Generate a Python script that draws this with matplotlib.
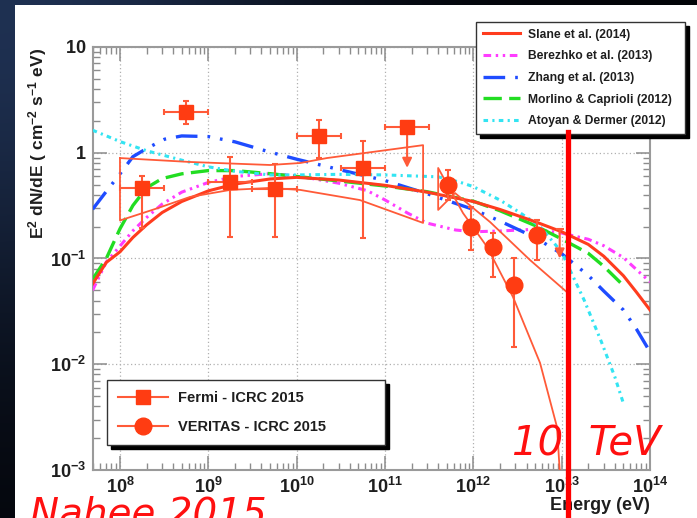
import numpy as np
import matplotlib
matplotlib.use('Agg')
import matplotlib.pyplot as plt
from matplotlib.lines import Line2D
from matplotlib.patches import Rectangle
from matplotlib.ticker import LogLocator, FuncFormatter, NullFormatter

plt.rcParams['font.family'] = ['Liberation Sans', 'DejaVu Sans']
plt.rcParams['mathtext.fontset'] = 'custom'
plt.rcParams['mathtext.rm'] = 'Liberation Sans:bold'
plt.rcParams['mathtext.bf'] = 'Liberation Sans:bold'
plt.rcParams['mathtext.it'] = 'Liberation Sans:bold'

# ---- model curves (E in eV, E^2 dN/dE) ----
slane_E = [4.9e7, 7e7, 1e8, 1.4e8, 2e8, 3e8, 5e8, 1e9, 2e9, 5e9, 1e10, 3e10, 1e11,
           3e11, 1e12, 2e12, 5e12, 1e13, 2e13, 3e13, 5e13, 7e13, 1e14]
slane_F = [0.0575, 0.0918, 0.1156, 0.158, 0.208, 0.272, 0.346, 0.436, 0.506, 0.565,
           0.585, 0.552, 0.492, 0.424, 0.346, 0.291, 0.223, 0.179, 0.136, 0.105,
           0.0687, 0.0482, 0.0326]

berezhko_E = [4.9e7, 7e7, 1e8, 1.4e8, 2e8, 3e8, 5e8, 1e9, 2e9, 5e9, 1e10, 3e10, 6.3e10,
              1e11, 1.8e11, 3e11, 6.3e11, 1e12, 2e12, 5e12, 1e13, 2e13, 3e13, 5e13, 1e14]
berezhko_F = [0.0501, 0.0927, 0.131, 0.183, 0.244, 0.327, 0.424, 0.524, 0.597, 0.634,
              0.605, 0.515, 0.438, 0.358, 0.269, 0.216, 0.186, 0.179, 0.182, 0.189,
              0.174, 0.152, 0.132, 0.102, 0.060]

zhang_E = [4.9e7, 7e7, 1e8, 1.4e8, 2e8, 3.2e8, 5e8, 1e9, 2e9, 5e9, 1e10, 3e10, 1e11,
           3e11, 1e12, 2e12, 5e12, 1e13, 2e13, 3e13, 5e13, 7e13, 1e14]
zhang_F = [0.292, 0.431, 0.631, 0.918, 1.096, 1.343, 1.442, 1.422, 1.268, 1.014, 0.869,
           0.695, 0.546, 0.410, 0.291, 0.226, 0.158, 0.111, 0.0692, 0.0492, 0.0326,
           0.0216, 0.0131]

morlino_E = [4.9e7, 7e7, 1e8, 1.4e8, 2e8, 3e8, 5e8, 1e9, 2e9, 5e9, 1e10, 3e10, 1e11,
             3e11, 1e12, 2e12, 5e12, 1e13, 2e13, 3e13, 5.2e13]
morlino_F = [0.0637, 0.100, 0.191, 0.317, 0.466, 0.570, 0.632, 0.678, 0.678, 0.634,
             0.597, 0.541, 0.485, 0.428, 0.348, 0.283, 0.205, 0.153, 0.112, 0.0843, 0.0537]

atoyan_E = [4.9e7, 7e7, 1e8, 2e8, 5e8, 1e9, 2e9, 5e9, 1e10, 3e10, 1e11, 4e11, 7e11,
            1e12, 2e12, 3.2e12, 5.6e12, 1e13, 1.26e13, 1.8e13, 2.8e13, 4e13, 5e13]
atoyan_F = [1.633, 1.445, 1.276, 1.045, 0.851, 0.736, 0.668, 0.617, 0.617, 0.625, 0.617,
            0.592, 0.528, 0.478, 0.357, 0.279, 0.204, 0.115, 0.0759, 0.0403, 0.0165,
            0.00759, 0.00427]

# ---- Fermi points ----
fermi_E = [1.78e8, 5.62e8, 1.78e9, 5.62e9, 1.78e10, 5.62e10]
fermi_Elo = [1e8, 3.16e8, 1e9, 3.16e9, 1e10, 3.16e10]
fermi_Ehi = [3.16e8, 1e9, 3.16e9, 1e10, 3.16e10, 1e11]
fermi_F = [0.465, 2.43, 0.53, 0.454, 1.44, 0.718]
fermi_Fhi = [0.60, 3.08, 0.91, 0.78, 2.04, 1.29]
fermi_Flo = [0.194, 1.87, 0.16, 0.16, 0.89, 0.156]
fermi_ul_E, fermi_ul_Elo, fermi_ul_Ehi = 1.78e11, 1e11, 3.16e11
fermi_ul_F, fermi_ul_end = 1.75, 0.72

fermi_bt_upE = [1e8, 6.2e8, 5e9, 1.1e10, 2.2e10, 8.8e10, 2.7e11]
fermi_bt_upF = [0.891, 0.818, 0.766, 0.80, 0.891, 1.04, 1.18]
fermi_bt_loE = [1e8, 2.6e8, 6.2e8, 1.76e9, 5e9, 1.1e10, 5.2e10, 2.7e11]
fermi_bt_loF = [0.229, 0.297, 0.382, 0.445, 0.465, 0.445, 0.357, 0.217]

# ---- VERITAS points ----
ver_E = [5.16e11, 9.4e11, 1.67e12, 2.89e12, 5.25e12]
ver_F = [0.495, 0.199, 0.128, 0.056, 0.167]
ver_Fhi = [0.687, 0.307, 0.174, 0.101, 0.231]
ver_Flo = [0.357, 0.12, 0.067, 0.0146, 0.097]
ver_ul_E, ver_ul_F, ver_ul_end = 9.5e12, 0.19, 0.10

ver_steepE = [4.0e11, 7.64e11, 1.43e12, 2.81e12, 5.69e12, 8.85e12, 9.66e12]
ver_steepF = [0.718, 0.269, 0.129, 0.0433, 0.0103, 0.00255, 0.000794]
ver_flatE = [4.0e11, 6.2e11, 1.55e12, 4.39e12, 1.18e13]
ver_flatF = [0.288, 0.416, 0.221, 0.0966, 0.0471]

RED = '#ff3c12'
ERR = '#ff5a38'

W, H = 697, 518
fig = plt.figure(figsize=(W / 100, H / 100), dpi=100)

# background: dark slide with white card
bg = fig.add_axes([0, 0, 1, 1])
bg.axis('off')
yy, xx = np.mgrid[0:H, 0:W]
t = np.exp(-((xx / 300.0) ** 2 + (yy / 330.0) ** 2))
navy = np.array([0.12, 0.19, 0.32])
dark = np.array([0.01, 0.015, 0.03])
img = navy[None, None, :] * t[..., None] + dark[None, None, :] * (1 - t)[..., None]
bg.imshow(img, extent=[0, 1, 0, 1], aspect='auto', origin='upper')
bg.add_patch(Rectangle((15 / W, 0), 1, 1 - 5 / H, facecolor='white', edgecolor='none'))
bg.set_xlim(0, 1)
bg.set_ylim(0, 1)

ax = fig.add_axes([93 / W, 48 / H, 557 / W, 423 / H])
ax.set_facecolor('white')
ax.set_xscale('log')
ax.set_yscale('log')
ax.set_xlim(4.95e7, 1e14)
ax.set_ylim(1e-3, 10)

l1, = ax.plot(slane_E, slane_F, color='#ff3c1e', lw=2.2, zorder=4, label='Slane et al. (2014)')
l2, = ax.plot(berezhko_E, berezhko_F, color='#ff3cff', lw=2.2, ls=(0, (2.5, 1.5, 0.8, 1.5, 0.8, 1.5)),
              zorder=3, label='Berezhko et al. (2013)')
l3, = ax.plot(zhang_E, zhang_F, color='#1f4cff', lw=2.4, ls=(0, (6.5, 3, 0.8, 3, 0.8, 3)),
              zorder=3, label='Zhang et al. (2013)')
l4, = ax.plot(morlino_E, morlino_F, color='#22dd22', lw=2.4, ls=(0, (5.5, 2.2)),
              zorder=3, label='Morlino & Caprioli (2012)')
l5, = ax.plot(atoyan_E, atoyan_F, color='#33e4f2', lw=2.2, ls=(0, (1.5, 1.4, 0.7, 1.4)),
              zorder=3, label='Atoyan & Dermer (2012)')

# Fermi butterfly
bx = fermi_bt_upE + fermi_bt_loE[::-1] + [fermi_bt_upE[0]]
by = fermi_bt_upF + fermi_bt_loF[::-1] + [fermi_bt_upF[0]]
ax.plot(bx, by, color=ERR, lw=1.3, zorder=4)

# VERITAS butterfly / fit
ax.plot(ver_flatE[::-1] + ver_steepE, ver_flatF[::-1] + ver_steepF, color=ERR, lw=1.3, zorder=4)

# Fermi points
fE = np.array(fermi_E)
fF = np.array(fermi_F)
ax.errorbar(fE, fF,
            xerr=[fE - np.array(fermi_Elo), np.array(fermi_Ehi) - fE],
            yerr=[fF - np.array(fermi_Flo), np.array(fermi_Fhi) - fF],
            fmt='s', ms=10, color=RED, ecolor=ERR, elinewidth=1.5, capsize=2.5,
            capthick=1.5, zorder=6)
ax.annotate('', xy=(fermi_ul_E, fermi_ul_end), xytext=(fermi_ul_E, fermi_ul_F),
            arrowprops=dict(arrowstyle='-|>', color=ERR, lw=1.5, mutation_scale=14,
                            shrinkA=0, shrinkB=0), zorder=5)
ax.errorbar([fermi_ul_E], [fermi_ul_F],
            xerr=[[fermi_ul_E - fermi_ul_Elo], [fermi_ul_Ehi - fermi_ul_E]],
            fmt='s', ms=10, color=RED, ecolor=ERR, elinewidth=1.5, capsize=2.5,
            capthick=1.5, zorder=6)

# VERITAS points
vE = np.array(ver_E)
vF = np.array(ver_F)
ax.errorbar(vE, vF, yerr=[vF - np.array(ver_Flo), np.array(ver_Fhi) - vF],
            fmt='o', ms=12, color=RED, ecolor=ERR, elinewidth=1.5, capsize=2.5,
            capthick=1.5, zorder=6)
ax.annotate('', xy=(ver_ul_E, ver_ul_end), xytext=(ver_ul_E, ver_ul_F),
            arrowprops=dict(arrowstyle='-|>', color=ERR, lw=1.5, mutation_scale=14,
                            shrinkA=0, shrinkB=0), zorder=5)
ax.plot([ver_ul_E], [ver_ul_F], marker='_', ms=6, mew=1.5, color=ERR, zorder=5)

# axes styling
ax.grid(True, which='major', ls=(0, (1, 2)), color='#b0b0b0', lw=0.9)
for s in ax.spines.values():
    s.set_color('#9a9a9a')
    s.set_linewidth(1.5)
ax.xaxis.set_major_locator(LogLocator(base=10, numticks=20))
ax.yaxis.set_major_locator(LogLocator(base=10, numticks=20))
ax.xaxis.set_minor_locator(LogLocator(base=10, subs=np.arange(2, 10), numticks=50))
ax.yaxis.set_minor_locator(LogLocator(base=10, subs=np.arange(2, 10), numticks=50))
ax.xaxis.set_minor_formatter(NullFormatter())
ax.yaxis.set_minor_formatter(NullFormatter())


def fmt_x(v, pos):
    return r'$\mathbf{10^{%d}}$' % round(np.log10(v))


def fmt_y(v, pos):
    e = round(np.log10(v))
    if e == 0:
        return r'$\mathbf{1}$'
    if e == 1:
        return r'$\mathbf{10}$'
    return r'$\mathbf{10^{%d}}$' % e


ax.xaxis.set_major_formatter(FuncFormatter(fmt_x))
ax.yaxis.set_major_formatter(FuncFormatter(fmt_y))
ax.tick_params(which='both', direction='in', top=True, right=True, color='#8c8c8c',
               labelcolor='#1e1e1e', labelsize=13)
ax.tick_params(which='major', length=10, width=1.1, pad=5)
ax.tick_params(which='minor', length=5, width=1.0)

ax.set_xlabel('Energy (eV)', fontsize=13, fontweight='bold', color='#1e1e1e', ha='right')
ax.xaxis.set_label_coords(1.0, -0.084)
ax.xaxis.label.set_va('center')
fig.text(38 / W, 1 - 48 / H, r'E$^{2}$ dN/dE ( cm$^{-2}$ s$^{-1}$ eV)', rotation=90,
         ha='center', va='top', fontsize=12.5, fontweight='bold', color='#1e1e1e')

# legends
leg1 = ax.legend(handles=[l1, l2, l3, l4, l5], loc='upper left',
                 bbox_to_anchor=(476 / W, 1 - 22 / H - 0.3, 209 / W, 0.3),
                 bbox_transform=fig.transFigure, mode='expand', borderaxespad=0,
                 prop={'family': 'Liberation Sans', 'weight': 'bold', 'size': 8.7},
                 handlelength=3.06, handletextpad=0.66, labelspacing=0.8, borderpad=0.55,
                 fancybox=False, edgecolor='#333333', framealpha=1,
                 shadow={'color': 'black', 'alpha': 1, 'ox': 3, 'oy': -3})
leg1.get_frame().set_linewidth(1.0)
for tx in leg1.get_texts():
    tx.set_color('#1e1e1e')
ax.add_artist(leg1)

h_fermi = Line2D([0], [0], color=ERR, lw=1.5, marker='s', ms=10, mfc=RED, mec=RED)
h_ver = Line2D([0], [0], color=ERR, lw=1.5, marker='o', ms=12, mfc=RED, mec=RED)
leg2 = ax.legend(handles=[h_fermi, h_ver], labels=['Fermi - ICRC 2015', 'VERITAS - ICRC 2015'],
                 loc='upper left', bbox_to_anchor=(107 / W, 1 - 380 / H - 0.2, 278 / W, 0.2),
                 bbox_transform=fig.transFigure, mode='expand', borderaxespad=0,
                 prop={'family': 'Liberation Sans', 'weight': 'bold', 'size': 10.5},
                 handlelength=3.4, handletextpad=0.75, labelspacing=1.05, borderpad=0.75,
                 numpoints=1, fancybox=False, edgecolor='#333333', framealpha=1,
                 shadow={'color': 'black', 'alpha': 1, 'ox': 3, 'oy': -3})
leg2.get_frame().set_linewidth(1.0)
for tx in leg2.get_texts():
    tx.set_color('#1e1e1e')

# annotations drawn on the slide
ax.plot([1.17e13, 1.17e13], [-0.12, 0.80], color='#ff0000', lw=3.8, clip_on=False,
        transform=ax.get_xaxis_transform(), zorder=7)
fig.text(512 / W, 1 - 455 / H, '10  TeV', fontsize=29, color='#ff1010',
         family='DejaVu Sans', style='italic', va='baseline', ha='left')
fig.text(30 / W, -8 / H, 'Nahee 2015', fontsize=28, color='#ff1010',
         family='DejaVu Sans', style='italic', va='baseline', ha='left')

fig.savefig('out.png', dpi=100)
